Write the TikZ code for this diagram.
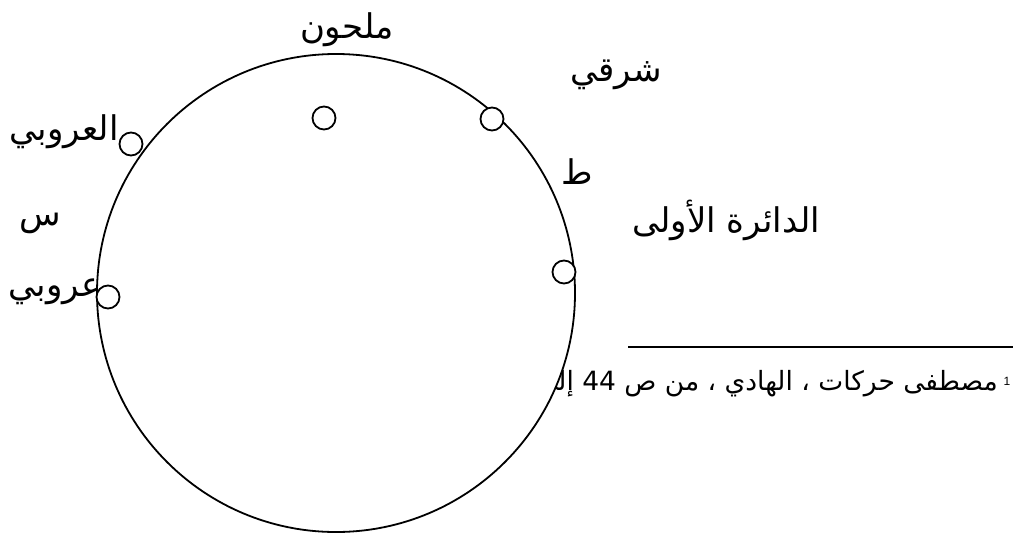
\documentclass[tikz,border=0pt]{standalone}
\usepackage{fontspec}
\setmainfont{Liberation Sans}
\newfontfamily\arabicfont[Script=Arabic]{DejaVu Sans}
\TeXXeTstate=1
\begin{document}
\begin{tikzpicture}[x=1pt,y=-1pt,
  lbl/.style={font=\arabicfont\fontsize{34}{40}\selectfont, inner sep=0pt},
  fn/.style={font=\arabicfont\fontsize{26.5}{31}\selectfont, inner sep=0pt},
  ring/.style={circle, draw, line width=1.8pt, fill=white, minimum size=478pt, inner sep=0pt},
  dot/.style={circle, draw, line width=1.8pt, fill=white, minimum size=23pt, inner sep=0pt}]
\useasboundingbox (0,0) rectangle (1019,533);
% footnote (partly hidden under the big circle)
\draw[line width=1.6pt] (628,347) coordinate (fa) -- (1013,347) coordinate (fb);
\node[fn, anchor=east] (foot) at (998,384) {\beginR مصطفى حركات ، الهادي ، من ص \beginL 44\endL{} إلى\endR};
\node[font=\fontsize{12}{14}\selectfont, inner sep=0pt] (sup) at (1007,381) {1};
% big circle
\node[ring] (big) at (336,293) {};
% small circles
\node[dot] (d1) at (324,118) {};
\node[dot] (d2) at (492,119) {};
\node[dot] (d3) at (131,144) {};
\node[dot] (d4) at (108,297) {};
\node[dot] (d5) at (564,272) {};
% labels
\node[lbl] (t1) at (347,30) {\beginR ملحون\endR};
\node[lbl] (t2) at (616,75) {\beginR شرقي\endR};
\node[lbl] (t3) at (577,172) {\beginR ط\endR};
\node[lbl] (t4) at (64,132) {\beginR العروبي\endR};
\node[lbl] (t5) at (40,223) {\beginR س\endR};
\node[lbl] (t6) at (55,292) {\beginR عروبي\endR};
\node[lbl] (t7) at (726,220) {\beginR الدائرة الأولى\endR};
\end{tikzpicture}
\end{document}
